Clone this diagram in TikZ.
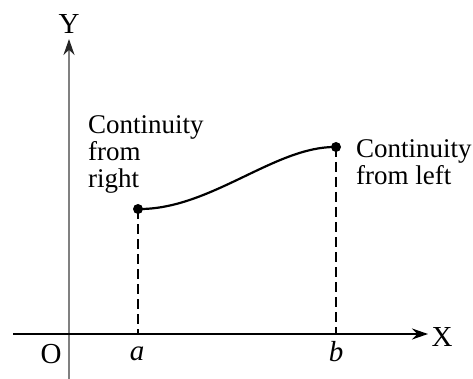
\documentclass[tikz,border=0pt]{standalone}
\usepackage{fontspec}
\setmainfont{Liberation Serif}
\newfontfamily\tnr{Liberation Serif}
\usetikzlibrary{arrows.meta}
\tikzset{
  axis/.style={line width=2pt,-{Stealth[length=16pt,width=11pt]}},
  dashline/.style={line width=1.8pt,dash pattern=on 10pt off 5pt},
  curve/.style={line width=2.2pt},
  dot/.style={circle,fill=black,inner sep=0pt,minimum size=10pt},
  lbl/.style={font=\tnr\fontsize{27}{27}\selectfont,align=left,inner sep=0pt,anchor=north west},
  axlbl/.style={font=\tnr\fontsize{29}{30}\selectfont,inner sep=0pt}
}
\begin{document}
\begin{tikzpicture}[x=1pt,y=-1pt]
\useasboundingbox (0,0) rectangle (473,379);
% axes
\coordinate (ybot) at (69,379);
\coordinate (ytop) at (69,39);
\coordinate (xleft) at (13,334);
\coordinate (xright) at (428,334);
\draw[line width=2.4pt,draw=black!50,-{Stealth[length=16pt,width=11pt,color=black!85]}] (ybot) -- (ytop);
\draw[axis] (xleft) -- (xright);
\node[axlbl] (Y) at (69,24) {Y};
\node[axlbl] (X) at (442,337) {X};
\node[axlbl] (O) at (51,354) {O};
% points
\node[dot] (A) at (138,209) {};
\node[dot] (B) at (336,147) {};
\coordinate (a0) at (138,334);
\coordinate (b0) at (336,334);
\node[axlbl] (la) at (137,354) {\itshape a};
\node[axlbl] (lb) at (336,352) {\itshape b};
\draw[dashline] (A.center) -- (a0);
\draw[dashline] (B.center) -- (b0);
\draw[curve] (A.center) .. controls (210,210) and (275,146) .. (B.center);
\node[lbl] (t1) at (88,115) {Continuity\\from\\right};
\node[lbl] (t2) at (356,139) {Continuity\\from left};
\end{tikzpicture}
\end{document}
